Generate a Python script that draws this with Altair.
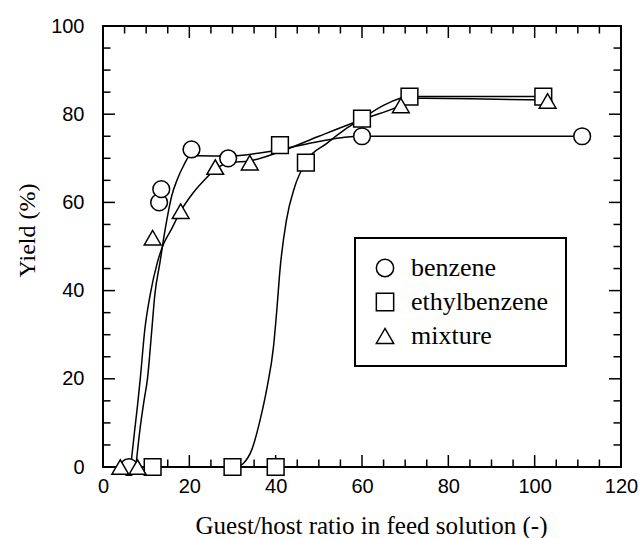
import altair as alt
import pandas as pd

# ---------------- data ----------------
series_names = ["benzene", "ethylbenzene", "mixture"]

benzene_x = [6, 13, 13.5, 20.5, 29, 60, 111]
benzene_y = [0, 60, 63, 72, 70, 75, 75]

ethyl_x = [11.5, 30, 40, 41, 47, 60, 71, 102]
ethyl_y = [0, 0, 0, 73, 69, 79, 84, 84]

mixture_x = [4, 8, 11.5, 18, 26, 34, 69, 103]
mixture_y = [0, 0, 52, 58, 68, 69, 82, 83]

# smooth curves
benzene_curve_x = [7.6, 8.5, 9.5, 10.3, 11.3, 12.0, 13.2, 14.4, 15.1, 15.9, 17.2, 18.6, 20.5, 22, 28.8, 40, 50, 56, 60, 111]
benzene_curve_y = [0, 8, 15, 20, 31, 39, 46.4, 53.9, 57.7, 61.4, 65.2, 68.2, 71.0, 70.6, 70.5, 71.8, 73.8, 74.8, 75, 75]

ethyl_curve_x = [31, 32.5, 34.5, 36.4, 38, 39.5, 40.3, 41, 42.5, 44.4, 46.8, 52, 56, 60, 65, 71, 102]
ethyl_curve_y = [0, 0.8, 4, 10.7, 18, 27.3, 36, 44.7, 56, 63.5, 68.8, 73.5, 76.5, 79, 82, 84, 84]

mixture_curve_x = [6.4, 7.3, 8.0, 8.6, 9.7, 10.9, 12.6, 14, 15.9, 17.8, 20.9, 24, 26, 29.4, 34, 41, 50, 60, 69, 72, 85, 103]
mixture_curve_y = [0, 8, 14, 19.7, 31.3, 38.9, 46.4, 50.5, 54, 57.7, 62.2, 65.6, 67.5, 69, 69.4, 71.5, 75, 78.8, 82, 83.6, 83.5, 83.2]

x_major_ticks = [0, 20, 40, 60, 80, 100, 120]
x_minor_ticks = [v for v in range(5, 120, 5) if v % 20 != 0]
y_major_ticks = [0, 20, 40, 60, 80, 100]
y_minor_ticks = [v for v in range(5, 100, 5) if v % 20 != 0]

# ---------------- tables ----------------
pts = pd.concat([
    pd.DataFrame({"x": benzene_x, "y": benzene_y, "series": "benzene"}),
    pd.DataFrame({"x": ethyl_x, "y": ethyl_y, "series": "ethylbenzene"}),
    pd.DataFrame({"x": mixture_x, "y": mixture_y, "series": "mixture"}),
], ignore_index=True)

curves = pd.concat([
    pd.DataFrame({"x": benzene_curve_x, "y": benzene_curve_y, "series": "benzene"}),
    pd.DataFrame({"x": ethyl_curve_x, "y": ethyl_curve_y, "series": "ethylbenzene"}),
    pd.DataFrame({"x": mixture_curve_x, "y": mixture_curve_y, "series": "mixture"}),
], ignore_index=True)

W, H = 518, 441
MAJ, MIN = 12, 7.5

xscale = alt.Scale(domain=[0, 120], nice=False, zero=False)
yscale = alt.Scale(domain=[0, 100], nice=False, zero=False)

xaxis = alt.Axis(values=x_major_ticks, ticks=False, domain=False, grid=False,
                 labelFont="Liberation Sans", labelFontSize=20, labelColor="black",
                 labelPadding=9, labelFlush=False,
                 title="Guest/host ratio in feed solution (-)",
                 titleFont="Liberation Serif", titleFontSize=25, titleFontWeight="normal",
                 titleColor="black", titleX=268, titleY=66, titleBaseline="alphabetic",
                 titleAlign="center")
yaxis = alt.Axis(values=y_major_ticks, ticks=False, domain=False, grid=False,
                 labelFont="Liberation Sans", labelFontSize=20, labelColor="black",
                 labelPadding=19, labelFlush=False,
                 title="Yield (%)",
                 titleFont="Liberation Serif", titleFontSize=24, titleFontWeight="normal",
                 titleColor="black", titleX=-69, titleY=204, titleBaseline="alphabetic",
                 titleAlign="center", titleAngle=270)


def X(field):
    return alt.X(field, type="quantitative", scale=xscale, axis=xaxis)


def Y(field):
    return alt.Y(field, type="quantitative", scale=yscale, axis=yaxis)


lines = alt.Chart(curves).mark_line(
    color="black", strokeWidth=1.5, interpolate="monotone"
).encode(x=X("x"), y=Y("y"), detail="series:N")


def make_legend():
    return alt.Legend(title=None, orient="none", legendX=252, legendY=212,
                      padding=17, labelFont="Liberation Serif", labelFontSize=26,
                      labelColor="black", symbolSize=300, symbolStrokeWidth=1.5,
                      symbolFillColor="white", labelOffset=13, rowPadding=8,
                      fillColor="white")


points = alt.Chart(pts).mark_point(
    filled=False, fill="white", fillOpacity=1, strokeWidth=1.5, size=280, opacity=1
).encode(
    x=X("x"), y=Y("y"),
    color=alt.Color("series:N",
                    scale=alt.Scale(domain=series_names, range=["black", "black", "black"]),
                    legend=make_legend()),
    shape=alt.Shape("series:N",
                    scale=alt.Scale(domain=series_names, range=["circle", "square", "triangle-up"]),
                    legend=make_legend()),
)

xmaj = pd.DataFrame({"v": x_major_ticks})
xmin = pd.DataFrame({"v": x_minor_ticks})
ymaj = pd.DataFrame({"v": y_major_ticks})
ymin = pd.DataFrame({"v": y_minor_ticks})

tick_layers = []
for df, L in [(xmaj, MAJ), (xmin, MIN)]:
    tick_layers.append(alt.Chart(df).mark_rule(color="black", strokeWidth=1.5).encode(
        x=X("v"), y=alt.value(H), y2=alt.value(H - L)))
    tick_layers.append(alt.Chart(df).mark_rule(color="black", strokeWidth=1.5).encode(
        x=X("v"), y=alt.value(0), y2=alt.value(L)))
for df, L in [(ymaj, MAJ), (ymin, MIN)]:
    tick_layers.append(alt.Chart(df).mark_rule(color="black", strokeWidth=1.5).encode(
        y=Y("v"), x=alt.value(0), x2=alt.value(L)))
    tick_layers.append(alt.Chart(df).mark_rule(color="black", strokeWidth=1.5).encode(
        y=Y("v"), x=alt.value(W), x2=alt.value(W - L)))

chart = alt.layer(*tick_layers, lines, points).properties(
    width=W, height=H,
    autosize=alt.AutoSizeParams(type="none"),
    padding={"left": 103, "top": 26, "right": 22, "bottom": 71},
    background="white",
).configure_view(
    stroke="black", strokeWidth=2
).configure_legend(
    strokeColor="black", strokeWidth=2
)

chart.save("out.html", embed_options={"renderer": "svg", "actions": False})
